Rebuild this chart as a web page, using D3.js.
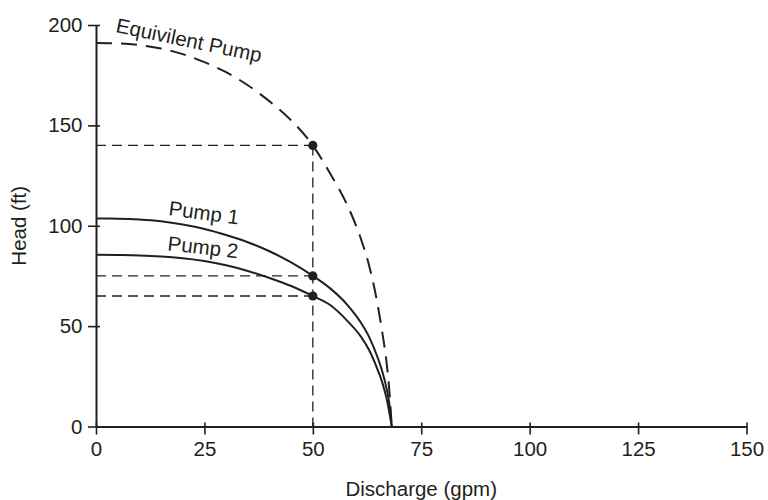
<!DOCTYPE html>
<html><head><meta charset="utf-8">
<script src="https://cdn.jsdelivr.net/npm/d3@7"></script>
<style>
body{margin:0;background:#fff}
svg{display:block}
text{font-family:"Liberation Sans",Arial,Helvetica,sans-serif;fill:#231f20}
</style>
</head><body>
<svg id="chart" width="768" height="500"></svg>
<script>
// ---- data ----
const discharge = [0, 5, 10, 15, 20, 25, 30, 35, 40, 45, 50, 54, 58, 61, 63, 65, 66, 67, 67.6, 68.2];
const pump1Head = [103.6, 103.5, 103.1, 102.2, 100.6, 98.4, 95.4, 91.8, 87.3, 81.7, 75, 68.8, 60.5, 52, 44.5, 34, 27.5, 19, 12, 0];
const pump2Head = [85.5, 85.4, 85.2, 84.7, 83.8, 82.4, 80.3, 77.5, 74, 70, 65, 60.5, 52.5, 45, 38, 28, 22, 14, 7.5, 0];
const equivHead = [191, 190.8, 190, 188.3, 185.5, 181.5, 176.5, 170, 162, 152.5, 140, 126, 110, 94, 80, 60, 47, 32, 19, 0];
const operatingQ = 50;
const operatingHeads = [140, 75, 65];
const xTicks = [0, 25, 50, 75, 100, 125, 150];
const yTicks = [0, 50, 100, 150, 200];
const curveNames = ["Equivilent Pump", "Pump 1", "Pump 2"];
const xTitle = "Discharge (gpm)";
const yTitle = "Head (ft)";

// ---- layout ----
const ink = "#231f20";
const fontSize = 20.5;
const svg = d3.select("#chart");
const x = d3.scaleLinear().domain([0, 150]).range([96, 746.5]);
const y = d3.scaleLinear().domain([0, 200]).range([426.5, 25]);

const series = [
  {name: curveNames[0], head: equivHead, dash: "16,9", width: 2, lab: {q: 4.4, h: 196.5, angle: 11.8}},
  {name: curveNames[1], head: pump1Head, dash: null, width: 2, lab: {q: 16.6, h: 105.3, angle: 7.6}},
  {name: curveNames[2], head: pump2Head, dash: null, width: 2, lab: {q: 16.4, h: 87.8, angle: 6.6}}
];

// reference lines
const refG = svg.append("g");
operatingHeads.forEach(h => {
  refG.append("line")
    .attr("x1", x(0)).attr("x2", x(operatingQ))
    .attr("y1", y(h)).attr("y2", y(h))
    .attr("stroke", ink).attr("stroke-width", 1.3).attr("stroke-dasharray", "10,6");
});
refG.append("line")
  .attr("x1", x(operatingQ)).attr("x2", x(operatingQ))
  .attr("y1", y(d3.max(operatingHeads))).attr("y2", y(0))
  .attr("stroke", ink).attr("stroke-width", 1.3).attr("stroke-dasharray", "10,6");

// curves
const line = d3.line()
  .x((d, i) => x(discharge[i]))
  .y(d => y(d))
  .curve(d3.curveMonotoneX);

series.forEach(s => {
  svg.append("path")
    .attr("d", line(s.head))
    .attr("fill", "none")
    .attr("stroke", ink)
    .attr("stroke-width", s.width)
    .attr("stroke-dasharray", s.dash);
  svg.append("text")
    .attr("transform", `translate(${x(s.lab.q)},${y(s.lab.h)}) rotate(${s.lab.angle})`)
    .attr("font-size", fontSize)
    .text(s.name);
});

// operating points
svg.selectAll("circle.op").data(operatingHeads).enter().append("circle")
  .attr("class", "op")
  .attr("cx", x(operatingQ)).attr("cy", d => y(d))
  .attr("r", 4.6).attr("fill", ink);

// axes
const xAxis = svg.append("g")
  .attr("transform", `translate(0,${y(0)})`)
  .call(d3.axisBottom(x).tickValues(xTicks).tickSizeInner(8).tickSizeOuter(0).tickPadding(7));
xAxis.selectAll(".tick line").attr("y1", -4);

const yAxis = svg.append("g")
  .attr("transform", `translate(${x(0)},0)`)
  .call(d3.axisLeft(y).tickValues(yTicks).tickSizeInner(8).tickSizeOuter(0).tickPadding(5.5));
yAxis.selectAll(".tick line").attr("x1", 4);

[xAxis, yAxis].forEach(g => {
  g.select(".domain").attr("stroke", ink).attr("stroke-width", 2);
  g.selectAll(".tick line").attr("stroke", ink).attr("stroke-width", 1.6);
  g.selectAll(".tick text").attr("fill", ink).attr("font-size", fontSize)
    .attr("font-family", "'Liberation Sans',Arial,Helvetica,sans-serif");
});

// axis titles
svg.append("text")
  .attr("x", (x.range()[0] + x.range()[1]) / 2)
  .attr("y", 496)
  .attr("text-anchor", "middle")
  .attr("font-size", fontSize)
  .text(xTitle);
svg.append("text")
  .attr("transform", `translate(26,${(y.range()[0] + y.range()[1]) / 2}) rotate(-90)`)
  .attr("text-anchor", "middle")
  .attr("font-size", fontSize)
  .text(yTitle);
</script>
</body></html>
